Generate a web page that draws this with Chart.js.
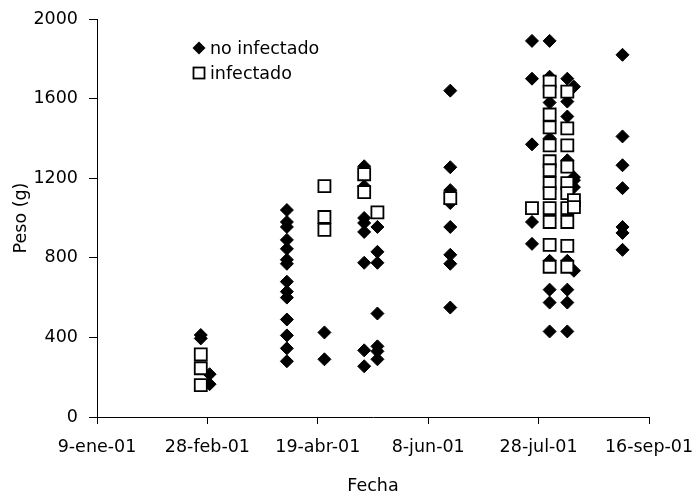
<!DOCTYPE html>
<html>
<head>
<meta charset="utf-8">
<script src="https://cdn.jsdelivr.net/npm/chart.js@4/dist/chart.umd.min.js"></script>
<style>
  html, body { margin: 0; padding: 0; background: #fff; }
  #wrap { width: 699px; height: 501px; position: relative; }
</style>
</head>
<body>
<div id="wrap"><canvas id="c"></canvas></div>
<script>
// ---- Data ----
const startDate = '2001-01-09';
const xTickLabels = ['9-ene-01', '28-feb-01', '19-abr-01', '8-jun-01', '28-jul-01', '16-sep-01'];
const yTickLabels = ['0', '400', '800', '1200', '1600', '2000'];
const seriesNames = ['no infectado', 'infectado'];

const noInfDates = [
  '2001-02-25','2001-02-25',
  '2001-03-01','2001-03-01',
  '2001-04-05','2001-04-05','2001-04-05','2001-04-05','2001-04-05','2001-04-05','2001-04-05',
  '2001-04-05','2001-04-05','2001-04-05','2001-04-05','2001-04-05','2001-04-05','2001-04-05',
  '2001-04-22','2001-04-22',
  '2001-05-10','2001-05-10','2001-05-10','2001-05-10','2001-05-10','2001-05-10','2001-05-10','2001-05-10',
  '2001-05-16','2001-05-16','2001-05-16','2001-05-16','2001-05-16','2001-05-16','2001-05-16',
  '2001-06-18','2001-06-18','2001-06-18','2001-06-18','2001-06-18','2001-06-18','2001-06-18','2001-06-18',
  '2001-07-25','2001-07-25','2001-07-25','2001-07-25','2001-07-25',
  '2001-08-02','2001-08-02','2001-08-02','2001-08-02','2001-08-02','2001-08-02','2001-08-02','2001-08-02',
  '2001-08-10','2001-08-10','2001-08-10','2001-08-10','2001-08-10','2001-08-10','2001-08-10','2001-08-10',
  '2001-08-13','2001-08-13','2001-08-13','2001-08-13','2001-08-13',
  '2001-09-04','2001-09-04','2001-09-04','2001-09-04','2001-09-04','2001-09-04','2001-09-04'
];
const noInfValues = [
  412, 395,
  215, 165,
  1040, 980, 955, 890, 845, 790, 770, 680, 630, 600, 490, 410, 345, 280,
  425, 290,
  1260, 1160, 1000, 975, 930, 775, 335, 255,
  955, 830, 775, 520, 355, 330, 290,
  1640, 1255, 1140, 1075, 955, 815, 770, 550,
  1890, 1700, 1370, 980, 870,
  1890, 1710, 1580, 1400, 785, 640, 575, 430,
  1700, 1585, 1510, 1290, 785, 640, 575, 430,
  1660, 1205, 1190, 1155, 735,
  1820, 1410, 1265, 1150, 955, 925, 840
];

const infDates = [
  '2001-02-25','2001-02-25','2001-02-25',
  '2001-04-22','2001-04-22','2001-04-22',
  '2001-05-10','2001-05-10',
  '2001-05-16',
  '2001-06-18',
  '2001-07-25',
  '2001-08-02','2001-08-02','2001-08-02','2001-08-02','2001-08-02','2001-08-02','2001-08-02',
  '2001-08-02','2001-08-02','2001-08-02','2001-08-02','2001-08-02','2001-08-02',
  '2001-08-10','2001-08-10','2001-08-10','2001-08-10','2001-08-10','2001-08-10','2001-08-10',
  '2001-08-10','2001-08-10','2001-08-10',
  '2001-08-13','2001-08-13'
];
const infValues = [
  315, 245, 160,
  1160, 1005, 940,
  1220, 1130,
  1028,
  1100,
  1050,
  1685, 1635, 1520, 1455, 1365, 1285, 1240, 1175, 1125, 1050, 980, 865, 755,
  1635, 1450, 1365, 1258, 1175, 1125, 1050, 980, 860, 755,
  1090, 1055
];

// ---- helpers ----
function dayOffset(s) {
  const p = s.split('-').map(Number), q = startDate.split('-').map(Number);
  return (Date.UTC(p[0], p[1] - 1, p[2]) - Date.UTC(q[0], q[1] - 1, q[2])) / 86400000;
}
function toPoints(dates, vals) { return dates.map((d, i) => ({ x: dayOffset(d), y: vals[i] })); }

const FONT = "'DejaVu Sans', Verdana, sans-serif";
const FSIZE = 17.5;

const legendPlugin = {
  id: 'manualLegend',
  afterDraw(chart) {
    const ctx = chart.ctx;
    ctx.save();
    ctx.font = FSIZE + 'px ' + FONT;
    ctx.fillStyle = '#000';
    ctx.textBaseline = 'middle';
    ctx.textAlign = 'left';
    const x0 = 199, y1 = 48, y2 = 73;
    // diamond
    ctx.beginPath();
    ctx.moveTo(x0 - 6.5, y1); ctx.lineTo(x0, y1 - 6.5); ctx.lineTo(x0 + 6.5, y1); ctx.lineTo(x0, y1 + 6.5);
    ctx.closePath(); ctx.fill();
    ctx.fillText(chart.data.datasets[1].label, 210, y1 + 1);
    // square
    ctx.fillStyle = '#fff';
    ctx.strokeStyle = '#000';
    ctx.lineWidth = 1.8;
    ctx.fillRect(x0 - 5.5, y2 - 5.5, 11, 11);
    ctx.strokeRect(x0 - 5.5, y2 - 5.5, 11, 11);
    ctx.fillStyle = '#000';
    ctx.fillText(chart.data.datasets[0].label, 210, y2 + 1);
    ctx.restore();
  }
};

new Chart(document.getElementById('c'), {
  type: 'scatter',
  data: {
    datasets: [
      {
        label: seriesNames[1],
        data: toPoints(infDates, infValues),
        pointStyle: 'rect',
        pointRadius: 8.5,
        pointHoverRadius: 8.5,
        backgroundColor: '#fff',
        borderColor: '#000',
        borderWidth: 1.8,
        order: 0
      },
      {
        label: seriesNames[0],
        data: toPoints(noInfDates, noInfValues),
        pointStyle: 'rectRot',
        pointRadius: 6.5,
        pointHoverRadius: 6.5,
        backgroundColor: '#000',
        borderColor: '#000',
        borderWidth: 1,
        order: 1
      }
    ]
  },
  options: {
    responsive: true,
    maintainAspectRatio: false,
    animation: false,
    events: [],
    layout: { padding: { top: 19, right: 50, left: 0, bottom: 0 } },
    plugins: { legend: { display: false }, tooltip: { enabled: false } },
    scales: {
      x: {
        type: 'linear',
        min: 0, max: 250,
        ticks: {
          stepSize: 50,
          color: '#000',
          font: { family: FONT, size: FSIZE },
          padding: 13,
          maxRotation: 0,
          callback: (v, i) => xTickLabels[i]
        },
        grid: { drawOnChartArea: false, drawTicks: true, tickLength: 7, color: '#000', lineWidth: 1 },
        border: { display: true, color: '#000', width: 1 },
        title: { display: true, text: 'Fecha', color: '#000', font: { family: FONT, size: FSIZE }, padding: { top: 4, bottom: 4 } },
        afterFit: s => { s.height = 84; s.paddingLeft = 0; s.paddingRight = 0; }
      },
      y: {
        min: 0, max: 2000,
        ticks: {
          stepSize: 400,
          color: '#000',
          font: { family: FONT, size: FSIZE },
          padding: 11,
          callback: (v, i) => yTickLabels[i]
        },
        grid: { drawOnChartArea: false, drawTicks: true, tickLength: 8, color: '#000', lineWidth: 1 },
        border: { display: true, color: '#000', width: 1 },
        title: { display: true, text: 'Peso (g)', color: '#000', font: { family: FONT, size: FSIZE }, padding: { top: 11, bottom: 11 } },
        afterFit: s => { s.width = 97; s.paddingTop = 0; s.paddingBottom = 0; }
      }
    }
  },
  plugins: [legendPlugin]
});
</script>
</body>
</html>
